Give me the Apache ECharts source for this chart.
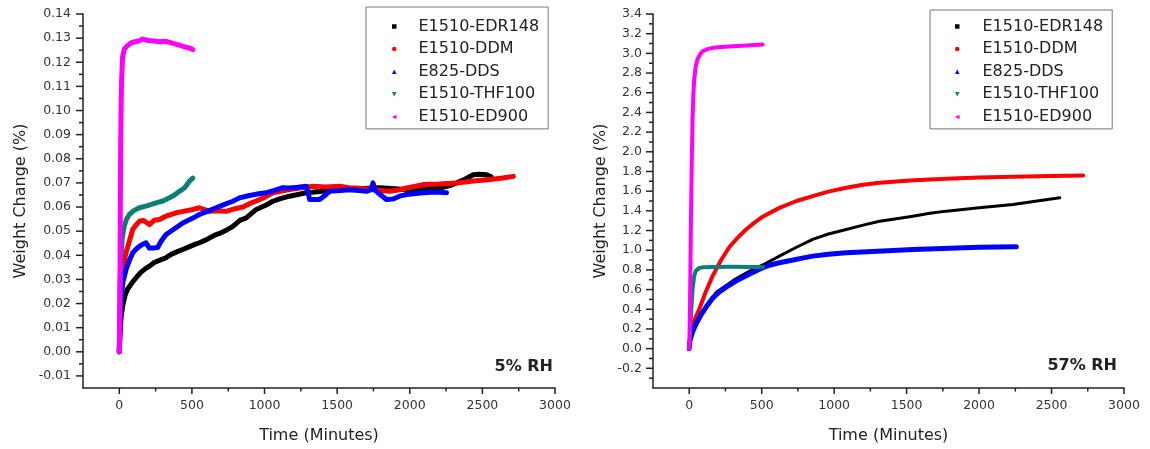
<!DOCTYPE html>
<html>
<head>
<meta charset="utf-8">
<title>Weight change vs time</title>
<script src="https://cdn.jsdelivr.net/npm/echarts@6.0.0/dist/echarts.min.js"></script>
<style>
  html, body { margin: 0; padding: 0; background: #fff; }
  #chart { width: 1150px; height: 449px; }
</style>
</head>
<body>
<div id="chart"></div>
<script>
// ---- sample names and colours ----
const seriesNames = ['E1510-EDR148', 'E1510-DDM', 'E825-DDS', 'E1510-THF100', 'E1510-ED900'];
const seriesColors = ['#000000', '#ff0000', '#0000ff', '#0b7f74', '#ff00ff'];

// ---- 5% RH: [time (min), weight change (%)] ----
const edr148_5 = [[0,0],[5,0.008],[12,0.014],[23,0.019],[40,0.0235],[57,0.026],[75,0.0275],[92,0.029],[120,0.031],[150,0.033],[180,0.0345],[207,0.0355],[240,0.037],[280,0.038],[322,0.039],[360,0.0405],[400,0.0415],[437,0.0424],[480,0.0435],[520,0.0445],[552,0.0452],[600,0.0465],[640,0.0478],[667,0.0486],[700,0.0493],[740,0.0505],[782,0.052],[830,0.0545],[874,0.0555],[943,0.059],[1000,0.0605],[1057,0.0624],[1110,0.0635],[1172,0.0645],[1230,0.0652],[1287,0.0659],[1400,0.0665],[1517,0.0672],[1650,0.0676],[1793,0.068],[1900,0.0676],[1977,0.0672],[2100,0.0676],[2207,0.0679],[2280,0.069],[2322,0.070],[2380,0.0715],[2437,0.0734],[2480,0.0736],[2529,0.0734],[2560,0.0725]];
const ddm_5 = [[0,0],[5,0.015],[11,0.027],[25,0.035],[46,0.041],[70,0.046],[92,0.0507],[115,0.0525],[138,0.0541],[165,0.0545],[190,0.0535],[207,0.0527],[240,0.0545],[276,0.0548],[320,0.0562],[360,0.057],[391,0.0576],[440,0.0582],[506,0.059],[552,0.0597],[621,0.0582],[680,0.0585],[736,0.0582],[790,0.0592],[851,0.06],[900,0.0615],[943,0.0625],[1000,0.064],[1057,0.0659],[1110,0.0665],[1172,0.0672],[1250,0.068],[1333,0.0686],[1420,0.0683],[1517,0.0686],[1580,0.068],[1632,0.0679],[1747,0.0672],[1862,0.0665],[1920,0.067],[1977,0.0679],[2040,0.0686],[2092,0.0693],[2200,0.0695],[2322,0.07],[2440,0.0708],[2552,0.0714],[2640,0.072],[2713,0.0727]];
const dds_5 = [[0,0],[5,0.01],[11,0.0217],[25,0.029],[46,0.034],[70,0.038],[92,0.041],[115,0.0425],[138,0.0437],[160,0.0445],[184,0.0452],[207,0.043],[235,0.043],[264,0.0432],[290,0.046],[322,0.0486],[380,0.051],[437,0.0534],[500,0.0552],[552,0.0569],[610,0.0583],[667,0.0597],[720,0.061],[782,0.0624],[828,0.0638],[897,0.0648],[960,0.0655],[1011,0.0659],[1057,0.0667],[1126,0.068],[1172,0.0679],[1230,0.0682],[1287,0.0686],[1300,0.066],[1310,0.0631],[1379,0.0631],[1420,0.065],[1448,0.0665],[1520,0.0668],[1586,0.0672],[1650,0.0668],[1701,0.0665],[1735,0.0672],[1747,0.07],[1760,0.067],[1790,0.0655],[1839,0.0631],[1885,0.0633],[1930,0.0645],[1977,0.0652],[2092,0.0659],[2180,0.0662],[2253,0.0659]];
const thf100_5 = [[0,0],[3,0.015],[6,0.028],[11,0.038],[20,0.047],[34,0.052],[50,0.055],[69,0.0569],[100,0.0585],[138,0.0597],[190,0.0605],[253,0.0617],[300,0.0625],[345,0.0638],[380,0.065],[414,0.0665],[450,0.068],[483,0.0707],[506,0.072]];
const ed900_5 = [[0,0],[3,0.015],[5,0.035],[7,0.06],[9,0.0825],[12,0.1],[16,0.113],[23,0.1224],[35,0.1255],[55,0.1268],[80,0.128],[110,0.1285],[140,0.129],[161,0.1296],[200,0.129],[240,0.1288],[280,0.1285],[322,0.1287],[370,0.1278],[420,0.127],[460,0.1262],[490,0.1258],[506,0.1252]];

// ---- 57% RH: [time (min), weight change (%)] ----
const edr148_57 = [[0,0],[10,0.13],[46,0.23],[115,0.43],[185,0.57],[322,0.71],[420,0.79],[507,0.85],[622,0.94],[740,1.03],[852,1.11],[960,1.165],[1083,1.21],[1200,1.255],[1313,1.295],[1430,1.32],[1543,1.346],[1660,1.375],[1774,1.397],[2000,1.432],[2234,1.465],[2400,1.5],[2557,1.533]];
const ddm_57 = [[0,0],[10,0.15],[30,0.27],[69,0.4],[115,0.58],[161,0.737],[220,0.9],[276,1.03],[330,1.12],[392,1.21],[450,1.28],[507,1.34],[622,1.43],[740,1.5],[852,1.55],[960,1.595],[1083,1.635],[1200,1.665],[1313,1.685],[1550,1.71],[1774,1.726],[2000,1.738],[2234,1.746],[2500,1.755],[2718,1.76]];
const dds_57 = [[0,0],[5,0.08],[23,0.17],[46,0.25],[80,0.34],[115,0.42],[160,0.51],[207,0.575],[260,0.63],[322,0.686],[420,0.76],[507,0.822],[560,0.85],[622,0.873],[700,0.895],[780,0.92],[852,0.94],[960,0.958],[1083,0.975],[1300,0.99],[1543,1.008],[1800,1.02],[2000,1.03],[2257,1.035]];
const thf100_57 = [[0,0],[5,0.1],[12,0.35],[23,0.6],[34,0.737],[45,0.79],[57,0.81],[69,0.82],[100,0.828],[161,0.83],[300,0.832],[420,0.83],[507,0.83]];
const ed900_57 = [[0,0],[4,0.3],[8,0.8],[12,1.31],[17,1.85],[23,2.33],[28,2.57],[34,2.73],[45,2.87],[57,2.94],[75,2.99],[92,3.02],[120,3.04],[161,3.056],[220,3.065],[276,3.07],[400,3.08],[507,3.09]];

// ---- axis ticks ----
const timeTicks = [0, 500, 1000, 1500, 2000, 2500, 3000];
const timeMinorTicks = [250, 750, 1250, 1750, 2250, 2750];
const lowRhTicks = [-0.01, 0, 0.01, 0.02, 0.03, 0.04, 0.05, 0.06, 0.07, 0.08, 0.09, 0.10, 0.11, 0.12, 0.13, 0.14];
const lowRhMinorTicks = [-0.005, 0.005, 0.015, 0.025, 0.035, 0.045, 0.055, 0.065, 0.075, 0.085, 0.095, 0.105, 0.115, 0.125, 0.135];
const highRhTicks = [-0.2, 0, 0.2, 0.4, 0.6, 0.8, 1.0, 1.2, 1.4, 1.6, 1.8, 2.0, 2.2, 2.4, 2.6, 2.8, 3.0, 3.2, 3.4];
const highRhMinorTicks = [-0.3, -0.1, 0.1, 0.3, 0.5, 0.7, 0.9, 1.1, 1.3, 1.5, 1.7, 1.9, 2.1, 2.3, 2.5, 2.7, 2.9, 3.1, 3.3];

// ---- axis ranges ----
const TIME_MIN = -250, TIME_MAX = 3000;
const LOW_MIN = -0.015, LOW_MAX = 0.14;
const HIGH_MIN = -0.4, HIGH_MAX = 3.4;

const lowRhData = [edr148_5, ddm_5, dds_5, thf100_5, ed900_5];
const highRhData = [edr148_57, ddm_57, dds_57, thf100_57, ed900_57];
const lowRhWidths = [5, 5, 5, 5, 5];
const highRhWidths = [3, 4, 5, 4, 4];

const FONT = 'DejaVu Sans';
const AXIS_COLOR = '#222';
const LABEL_COLOR = '#333';
const TEXT_COLOR = '#222';

const legendIcons = [
  'rect',
  'circle',
  'triangle',
  'path://M0,0 L10,0 L5,10 Z',
  'path://M0,5 L10,0 L10,10 Z'
];

function xAxisFor(gridIndex) {
  return {
    gridIndex, type: 'value', min: TIME_MIN, max: TIME_MAX, position: 'bottom',
    name: 'Time (Minutes)', nameLocation: 'middle', nameGap: 40,
    nameTextStyle: { fontFamily: FONT, fontSize: 16, color: TEXT_COLOR },
    axisLine: { onZero: false, lineStyle: { color: AXIS_COLOR, width: 1.5 } },
    axisTick: { show: false },
    axisLabel: { customValues: timeTicks, margin: 11, fontFamily: FONT, fontSize: 12.5, color: LABEL_COLOR,
      formatter: v => String(v) },
    splitLine: { show: false }
  };
}
function yAxisFor(gridIndex, min, max, ticks, digits, nameGap, margin) {
  return {
    gridIndex, type: 'value', min, max, position: 'left',
    name: 'Weight Change (%)', nameLocation: 'middle', nameGap,
    nameTextStyle: { fontFamily: FONT, fontSize: 16, color: TEXT_COLOR },
    axisLine: { show: true, onZero: false, lineStyle: { color: AXIS_COLOR, width: 1.5 } },
    axisTick: { show: false },
    axisLabel: { customValues: ticks, margin, fontFamily: FONT, fontSize: 12.5, color: LABEL_COLOR,
      formatter: v => Number(v).toFixed(digits) },
    splitLine: { show: false }
  };
}

function legendFor(left, top, padTop, padLeft, textPad) {
  return {
    orient: 'vertical', left, top,
    padding: [padTop, 9, 3, padLeft],
    itemGap: 4.6, itemWidth: 4.5, itemHeight: 4.5,
    borderColor: '#777', borderWidth: 1, backgroundColor: '#fff',
    selectedMode: false,
    textStyle: { fontFamily: FONT, fontSize: 16, color: TEXT_COLOR, lineHeight: 18, padding: [0, 0, 0, textPad] },
    itemStyle: { borderWidth: 0 },
    data: seriesNames.map((n, i) => ({ name: n, icon: legendIcons[i] }))
  };
}

const series = [];
lowRhData.forEach((d, i) => series.push({
  name: seriesNames[i], type: 'line', xAxisIndex: 0, yAxisIndex: 0, data: d,
  showSymbol: false, symbol: 'none', animation: false, color: seriesColors[i],
  lineStyle: { width: lowRhWidths[i], color: seriesColors[i], cap: 'round', join: 'round' }
}));
highRhData.forEach((d, i) => series.push({
  name: seriesNames[i], type: 'line', xAxisIndex: 1, yAxisIndex: 1, data: d,
  showSymbol: false, symbol: 'none', animation: false, color: seriesColors[i],
  lineStyle: { width: highRhWidths[i], color: seriesColors[i], cap: 'round', join: 'round' }
}));

const panelLabels = [
  { type: 'text', right: 597, top: 359, silent: true, style: { text: '5% RH', font: 'bold 16px "DejaVu Sans"', fill: TEXT_COLOR } },
  { type: 'text', right: 33, top: 358, silent: true, style: { text: '57% RH', font: 'bold 16px "DejaVu Sans"', fill: TEXT_COLOR } }
];

const chart = echarts.init(document.getElementById('chart'), null, { renderer: 'canvas' });
chart.setOption({
  backgroundColor: '#fff',
  animation: false,
  grid: [
    { left: 83, top: 14, width: 472, height: 374 },
    { left: 653, top: 14, width: 471, height: 374 }
  ],
  xAxis: [xAxisFor(0), xAxisFor(1)],
  yAxis: [
    yAxisFor(0, LOW_MIN, LOW_MAX, lowRhTicks, 2, 54, 12),
    yAxisFor(1, HIGH_MIN, HIGH_MAX, highRhTicks, 1, 44, 11)
  ],
  legend: [
    legendFor(366, 7, 10.5, 26, 17),
    legendFor(930, 10, 7.5, 25, 18)
  ],
  graphic: panelLabels,
  series
});

// Outward tick marks, positioned through each panel's own axis scales.
function tickMarks(axisIndex, xMajor, xMinor, yMajor, yMinor, xMin, yMin) {
  const out = [];
  const model = chart.getModel();
  const xAxis = model.getComponent('xAxis', axisIndex).axis;
  const yAxis = model.getComponent('yAxis', axisIndex).axis;
  const xPix = v => xAxis.toGlobalCoord(xAxis.dataToCoord(v));
  const yPix = v => yAxis.toGlobalCoord(yAxis.dataToCoord(v));
  const baseY = yPix(yMin);
  const baseX = xPix(xMin);
  const box = (x, y, w, h) => out.push({ type: 'rect', silent: true, z: 100,
    shape: { x, y, width: w, height: h }, style: { fill: AXIS_COLOR } });
  xMajor.forEach(v => box(xPix(v) - 0.75, baseY, 1.5, 6));
  xMinor.forEach(v => box(xPix(v) - 0.75, baseY, 1.5, 3.5));
  yMajor.forEach(v => box(baseX - 7, yPix(v) - 0.75, 7, 1.5));
  yMinor.forEach(v => box(baseX - 4, yPix(v) - 0.75, 4, 1.5));
  return out;
}
let tickGraphics = [];
try {
  tickGraphics = tickMarks(0, timeTicks, timeMinorTicks, lowRhTicks, lowRhMinorTicks, TIME_MIN, LOW_MIN)
    .concat(tickMarks(1, timeTicks, timeMinorTicks, highRhTicks, highRhMinorTicks, TIME_MIN, HIGH_MIN));
} catch (e) {
  tickGraphics = [];
}
chart.setOption({ graphic: panelLabels.concat(tickGraphics) });
</script>
</body>
</html>
